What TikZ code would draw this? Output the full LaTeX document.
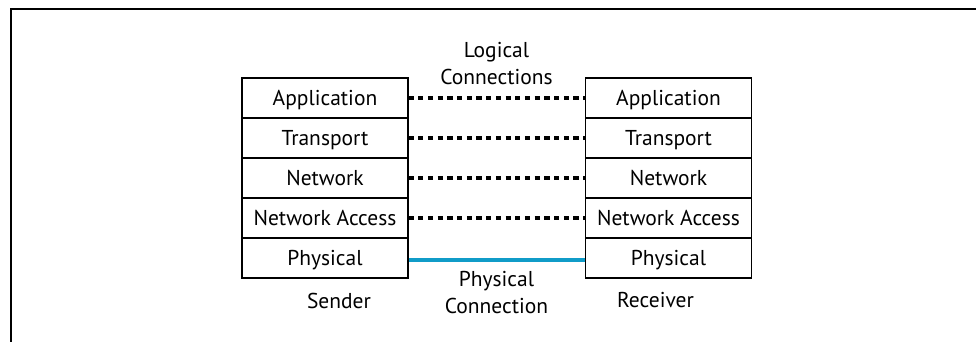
\documentclass[tikz,border=0pt]{standalone}
\usepackage{fontspec}
\setmainfont{PT Sans}
\definecolor{linkblue}{RGB}{16,156,200}
\begin{document}
\begin{tikzpicture}[x=1pt,y=-1pt,
  layer/.style={draw=black,line width=1.1pt,minimum width=166pt,minimum height=40pt,
    inner sep=0pt,text height=15pt,text depth=0pt,
    font=\fontsize{21.5}{27}\selectfont},
  caption/.style={inner sep=0pt,align=center,font=\fontsize{21.5}{27}\selectfont},
  logical/.style={line width=3.6pt,dash pattern=on 5.2pt off 4.5pt},
  physical/.style={line width=3.6pt,draw=linkblue}]
\useasboundingbox (0,0) rectangle (976,342);
% outer frame: top and left edges
\draw[line width=1.5pt] (11,342) -- (11,9) -- (976,9);
% sender stack
\node[layer] (s1) at (325,98)  {Application};
\node[layer] (s2) at (325,138) {Transport};
\node[layer] (s3) at (325,178) {Network};
\node[layer] (s4) at (325,218) {Network Access};
\node[layer] (s5) at (325,258) {Physical};
% receiver stack
\node[layer] (r1) at (668.5,98)  {Application};
\node[layer] (r2) at (668.5,138) {Transport};
\node[layer] (r3) at (668.5,178) {Network};
\node[layer] (r4) at (668.5,218) {Network Access};
\node[layer] (r5) at (668.5,258) {Physical};
% peer-to-peer logical links
\draw[logical] (s1.east) -- (r1.west);
\draw[logical] (s2.east) -- (r2.west);
\draw[logical] (s3.east) -- (r3.west);
\draw[logical] (s4.east) -- (r4.west);
% physical medium
\draw[physical] ([yshift=-2pt]s5.east) -- ([yshift=-2pt]r5.west);
% captions
\node[caption,anchor=south] (lc) at (496.5,85) {Logical\\Connections};
\node[caption,anchor=south] (pc) at (496.5,314) {Physical\\Connection};
\node[caption,anchor=base] (snd) at (339,308) {Sender};
\node[caption,anchor=base] (rcv) at (655.5,307) {Receiver};
\end{tikzpicture}
\end{document}
